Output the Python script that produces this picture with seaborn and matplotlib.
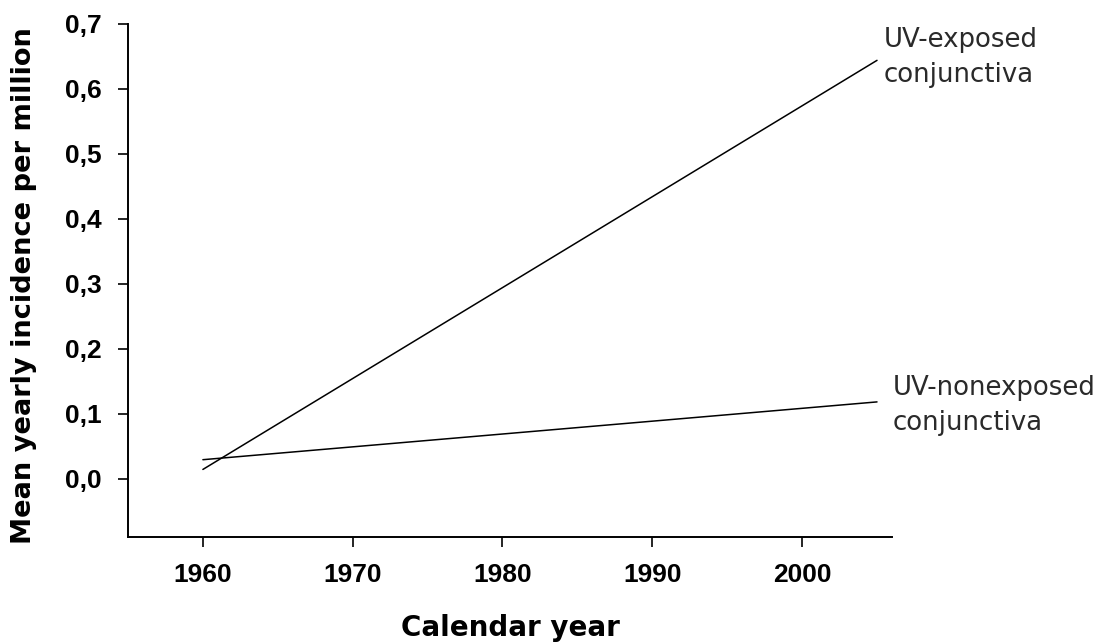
import pandas as pd
import matplotlib.pyplot as plt
import seaborn as sns

# Data
years = [1960, 2005]
exposed = [0.014, 0.644]
nonexposed = [0.029, 0.118]
labels = ["UV-exposed\nconjunctiva", "UV-nonexposed\nconjunctiva"]

sns.set_style("ticks")
plt.rcParams['font.family'] = ['Liberation Sans', 'DejaVu Sans']
plt.rcParams['text.color'] = 'black'
plt.rcParams['axes.labelcolor'] = 'black'
plt.rcParams['xtick.color'] = 'black'
plt.rcParams['ytick.color'] = 'black'
plt.rcParams['axes.edgecolor'] = 'black'

df = pd.DataFrame({
    'year': years * 2,
    'incidence': exposed + nonexposed,
    'group': [labels[0]] * 2 + [labels[1]] * 2,
})

fig = plt.figure(figsize=(11.1, 6.43), dpi=100)
ax = fig.add_axes([0.1153, 0.1649, 0.8036 - 0.1153, 0.9627 - 0.1649])

sns.lineplot(data=df, x='year', y='incidence', units='group', estimator=None,
             color='black', linewidth=1.1, ax=ax, legend=False)

# Line labels at the right end of each line
for series, lab, dx, dy in [(exposed, labels[0], 0.45, 0.004),
                            (nonexposed, labels[1], 1.05, -0.005)]:
    ax.text(years[-1] + dx, series[-1] + dy, lab, fontsize=18.7,
            family='DejaVu Sans', color='#2a2a2a',
            ha='left', va='center', clip_on=False, linespacing=1.45)

ax.set_xlim(1955, 2006)
ax.set_ylim(-0.09, 0.7)
ax.set_xticks([1960, 1970, 1980, 1990, 2000])
ax.set_yticks([0.0, 0.1, 0.2, 0.3, 0.4, 0.5, 0.6, 0.7])
ax.set_yticklabels([f"{v:.1f}".replace('.', ',') for v in ax.get_yticks()])

ax.tick_params(axis='both', direction='out', length=7, width=1.2,
               labelsize=19, pad=12)
for lab in ax.get_xticklabels() + ax.get_yticklabels():
    lab.set_fontweight('bold')

ax.spines['top'].set_visible(False)
ax.spines['right'].set_visible(False)
ax.spines['left'].set_linewidth(1.4)
ax.spines['bottom'].set_linewidth(1.4)

ax.set_xlabel('Calendar year', fontsize=20, fontweight='bold',
              family='DejaVu Sans')
ax.set_ylabel('Mean yearly incidence per million', fontsize=19.6,
              fontweight='bold', family='DejaVu Sans')
ax.xaxis.set_label_coords(0.5, -0.150)
ax.yaxis.set_label_coords(-0.119, 0.49)

fig.savefig('out.png', dpi=100)
plt.close(fig)
